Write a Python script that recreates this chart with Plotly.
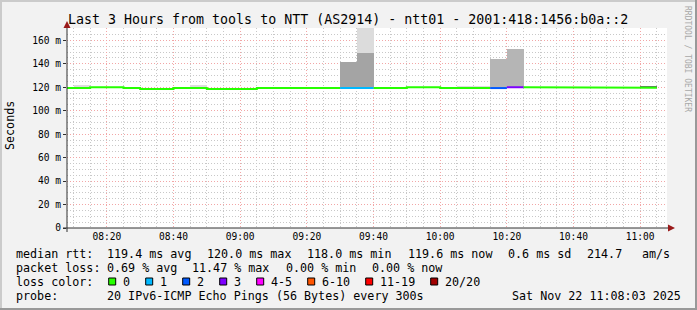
import plotly.graph_objects as go
import pandas as pd

# ---------------- data ----------------
title_text = "Last 3 Hours from tools to NTT (AS2914) - ntt01 - 2001:418:1456:b0a::2"
x_range = ["2025-11-22 08:08:03", "2025-11-22 11:08:03"]
step_starts = pd.date_range("2025-11-22 08:05", periods=36, freq="5min")

median_ms = [119.3, 119.3, 120.0, 120.0, 119.3, 118.6, 118.6, 119.3, 119.3, 118.6,
             118.6, 118.6, 119.3, 119.3, 119.3, 119.3, 119.3, 119.3, 119.3, 119.3,
             119.3, 120.0, 120.0, 119.3, 119.3, 119.3, 119.3, 120.0, 120.0, 120.0,
             120.0, 120.0, 120.0, 120.0, 120.0, 119.6]
loss_pings = [0, 0, 0, 0, 0, 0, 0, 0, 0, 0,
              0, 0, 0, 0, 0, 0, 0, 1, 1, 0,
              0, 0, 0, 0, 0, 0, 2, 3, 0, 0,
              0, 0, 0, 0, 0, 0]
smoke_core_top = [None] * 17 + [141.3, 148.9] + [None] * 7 + [144.3, 152.6] + [None] * 7 + [121.3]
smoke_outer_top = [None, 121.9, None, None, None, None, None, None, 121.9, None,
                   None, None, None, None, None, None, None, None, 185.0, None,
                   None, None, None, None, 121.3, 121.3, None, None, None, None,
                   None, None, None, None, None, None]

y_tick_vals = [0, 20, 40, 60, 80, 100, 120, 140, 160]
y_tick_text = ["0", "20 m", "40 m", "60 m", "80 m", "100 m", "120 m", "140 m", "160 m"]
y_label = "Seconds"

rtt_label = "median rtt:"
rtt_stats = ["119.4 ms avg", "120.0 ms max", "118.0 ms min", "119.6 ms now", "0.6 ms sd", "214.7", "am/s"]
loss_label = "packet loss:"
loss_stats = ["0.69 % avg", "11.47 % max", "0.00 % min", "0.00 % now"]
color_label = "loss color:"
loss_bins = ["0", "1", "2", "3", "4-5", "6-10", "11-19", "20/20"]
loss_bin_max = [0, 1, 2, 3, 5, 10, 19, 20]
probe_label = "probe:"
probe_text = "20 IPv6-ICMP Echo Pings (56 Bytes) every 300s"
date_text = "Sat Nov 22 11:08:03 2025"
watermark = "RRDTOOL / TOBI OETIKER"

# ---------------- styles ----------------
bin_colors = ["#26ff00", "#00b8ff", "#0059ff", "#7e00ff", "#ff00ff", "#ff5500", "#ff0000", "#a10000"]
core_shade = {0: "#6e6e6e", 1: "#a4a4a4", 2: "#b5b5b5", 3: "#b5b5b5"}
outer_shade = "#dcdcdc"
MONO = "DejaVu Sans Mono"
W, H = 697, 310
PL, PT, PW, PH = 67, 28, 600, 200


def xp(px):
    return (px - PL) / PW


def yp(py):
    return (PT + PH - py) / PH


def bin_of(n):
    for i, m in enumerate(loss_bin_max):
        if n <= m:
            return i
    return len(loss_bin_max) - 1


fig = go.Figure()
step_ms = 300000
centers = [s + pd.Timedelta(seconds=150) for s in step_starts]

# smoke: core band
cx, cb, ch, cc = [], [], [], []
for i, top in enumerate(smoke_core_top):
    if top is not None:
        cx.append(centers[i]); cb.append(median_ms[i] - 0.5)
        ch.append(top - (median_ms[i] - 0.5)); cc.append(core_shade.get(loss_pings[i], "#b5b5b5"))
fig.add_trace(go.Bar(x=cx, y=ch, base=cb, width=step_ms, marker=dict(color=cc, line=dict(width=0)),
                     hoverinfo="skip", showlegend=False))
# smoke: outer band
ox, ob, oh = [], [], []
for i, top in enumerate(smoke_outer_top):
    if top is not None:
        base = smoke_core_top[i] if smoke_core_top[i] is not None else median_ms[i] - 0.5
        ox.append(centers[i]); ob.append(base); oh.append(top - base)
fig.add_trace(go.Bar(x=ox, y=oh, base=ob, width=step_ms, marker=dict(color=outer_shade, line=dict(width=0)),
                     hoverinfo="skip", showlegend=False))

# median line coloured by loss
for b, col in enumerate(bin_colors):
    xs, ys = [], []
    prev = None
    for i, m in enumerate(median_ms):
        if bin_of(loss_pings[i]) != b:
            continue
        if prev is not None and prev != i - 1:
            xs.append(None); ys.append(None)
        xs += [step_starts[i], step_starts[i] + pd.Timedelta(minutes=5)]
        ys += [m, m]
        prev = i
    if xs:
        fig.add_trace(go.Scatter(x=xs, y=ys, mode="lines", line=dict(color=col, width=2),
                                 hoverinfo="skip", showlegend=False, connectgaps=False))

major_grid = "#f2a6a6"
minor_grid = "#c8c8c8"
dash = "1px,2px"
fig.update_layout(
    width=W, height=H, autosize=False,
    margin=dict(l=PL, r=W - PL - PW, t=PT, b=H - PT - PH, pad=0),
    paper_bgcolor="#f2f2f2", plot_bgcolor="#ffffff",
    barmode="overlay", bargap=0, showlegend=False,
    font=dict(family=MONO, color="#000000"),
    xaxis=dict(type="date", range=x_range, tickformat="%H:%M", dtick=1200000,
               tick0="2025-11-22 08:00", ticks="", ticklabelstandoff=1,
               showgrid=True, gridcolor=major_grid, griddash=dash, gridwidth=1,
               minor=dict(dtick=300000, tick0="2025-11-22 08:00", showgrid=True,
                          gridcolor=minor_grid, griddash=dash, gridwidth=1),
               showline=False, zeroline=False, layer="above traces",
               tickfont=dict(family=MONO, size=9.6), fixedrange=True),
    yaxis=dict(range=[0, 170.5], tickmode="array", tickvals=y_tick_vals, ticktext=y_tick_text,
               ticks="outside", ticklen=3, tickcolor="#303030",
               showgrid=True, gridcolor=major_grid, griddash=dash, gridwidth=1,
               minor=dict(dtick=5, tick0=0, showgrid=True, gridcolor=minor_grid,
                          griddash=dash, gridwidth=1),
               showline=False, zeroline=False, layer="above traces",
               tickfont=dict(family=MONO, size=9.6), fixedrange=True),
)

shapes = []
# frame
def rect(x0, y0, x1, y1, col):
    return dict(type="rect", xref="paper", yref="paper", x0=xp(x0), x1=xp(x1), y0=yp(y0), y1=yp(y1),
                fillcolor=col, line=dict(width=0), layer="above")
shapes += [rect(0, 0, W, 2, "#cbcbcb"), rect(0, 0, 2, H, "#cbcbcb"),
           rect(0, H - 2, W, H, "#999999"), rect(W - 2, 0, W, H, "#999999")]
# axes
axc = "#303030"
shapes.append(dict(type="line", xref="paper", yref="paper", x0=xp(63), x1=xp(670), y0=0, y1=0,
                   line=dict(color=axc, width=1), layer="above"))
shapes.append(dict(type="line", xref="paper", yref="paper", x0=0, x1=0, y0=yp(232), y1=yp(25),
                   line=dict(color=axc, width=1), layer="above"))
arc = "#9a1a1a"
shapes.append(dict(type="path", xref="paper", yref="paper",
                   path=f"M {xp(67)},{yp(21)} L {xp(63.5)},{yp(28)} L {xp(70.5)},{yp(28)} Z",
                   fillcolor=arc, line=dict(width=0), layer="above"))
shapes.append(dict(type="path", xref="paper", yref="paper",
                   path=f"M {xp(675)},{yp(228)} L {xp(668)},{yp(224.5)} L {xp(668)},{yp(231.5)} Z",
                   fillcolor=arc, line=dict(width=0), layer="above"))

ann = []
def text(px, py, s, size=11.7, anchor="left", color="#000000", angle=0):
    ann.append(dict(x=xp(px), y=yp(py), xref="paper", yref="paper", text=s, showarrow=False,
                    xanchor=anchor, yanchor="middle", borderpad=0, borderwidth=0, textangle=angle,
                    font=dict(family=MONO, size=size, color=color)))

text(348, 19, title_text, size=13.3, anchor="center")
text(10, 126, y_label, size=11.7, anchor="center", angle=-90)
text(688, 59, watermark, size=8, anchor="center", color="#a8a8a8", angle=90)

row_y = [254, 268, 282, 296]
text(16, row_y[0], rtt_label)
for s, px in zip(rtt_stats, [107.3, 207.3, 307.3, 407.7, 507.7, 586.7, 642.3]):
    text(px, row_y[0], s)
text(16, row_y[1], loss_label)
for s, px in zip(loss_stats, [107.3, 191.7, 286, 372.3]):
    text(px, row_y[1], s)
text(16, row_y[2], color_label)
bx = 108.7
for lab, col in zip(loss_bins, bin_colors):
    shapes.append(dict(type="rect", xref="paper", yref="paper", x0=xp(bx), x1=xp(bx + 7),
                       y0=yp(278), y1=yp(285), fillcolor=col, line=dict(color="#000000", width=1),
                       layer="above"))
    text(bx + 14, row_y[2], lab)
    bx += 37 + 7 * (len(lab) - 1)
text(16, row_y[3], probe_label)
text(107.3, row_y[3], probe_text)
text(681, row_y[3], date_text, anchor="right")

fig.update_layout(shapes=shapes, annotations=ann)
fig.write_html("out.html", config={"displayModeBar": False})
